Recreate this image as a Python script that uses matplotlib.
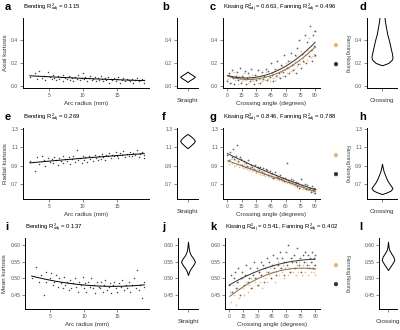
import numpy as np
import matplotlib
matplotlib.use("Agg")
import matplotlib.pyplot as plt

plt.rcParams['font.family'] = ['Liberation Sans', 'DejaVu Sans']
plt.rcParams['mathtext.default'] = 'regular'

# ---- data ----
# arc radius (mm) shared by panels a, e, i
arc_x = [2.2, 2.9, 3.3, 3.6, 4.0, 4.3, 4.4, 4.9, 5.1, 5.4,
         5.6, 5.8, 6.1, 6.3, 6.5, 6.8, 7.0, 7.1, 7.4, 7.7,
         7.9, 8.1, 8.4, 8.6, 8.8, 9.1, 9.3, 9.5, 9.8, 10.0,
         10.2, 10.3, 10.6, 10.9, 11.0, 11.3, 11.5, 11.7, 11.9, 12.2,
         12.4, 12.6, 12.8, 13.0, 13.2, 13.4, 13.7, 13.9, 14.1, 14.3,
         14.5, 14.8, 15.0, 15.2, 15.5, 15.7, 15.9, 16.2, 16.4, 16.7,
         16.9, 17.2, 17.4, 17.7, 17.9, 18.2, 18.4, 18.7, 18.9, 19.0]
arc_axial = [0.08, 0.11, 0.06, 0.13, 0.07, 0.09, 0.05, 0.12, 0.08, 0.06,
             0.10, 0.07, 0.05, 0.09, 0.06, 0.08, 0.04, 0.10, 0.07, 0.06,
             0.09, 0.05, 0.07, 0.04, 0.08, 0.06, 0.10, 0.05, 0.07, 0.11,
             0.06, 0.08, 0.04, 0.07, 0.09, 0.05, 0.06, 0.08, 0.04, 0.07,
             0.05, 0.09, 0.06, 0.04, 0.07, 0.05, 0.08, 0.03, 0.06, 0.05,
             0.07, 0.04, 0.06, 0.08, 0.03, 0.05, 0.07, 0.04, 0.06, 0.05,
             0.04, 0.06, 0.03, 0.05, 0.07, 0.04, 0.05, 0.06, 0.03, 0.05]
arc_radial = [0.95, 0.84, 0.99, 0.92, 1.00, 0.96, 0.90, 0.98, 0.94, 0.97,
              0.93, 0.99, 0.96, 0.91, 0.98, 0.95, 1.01, 0.93, 0.97, 0.95,
              0.99, 0.92, 0.97, 1.00, 0.94, 1.07, 0.96, 0.98, 0.93, 1.00,
              0.96, 0.99, 0.94, 1.01, 0.97, 0.99, 0.95, 1.02, 0.98, 0.96,
              1.01, 0.97, 1.03, 0.99, 0.96, 1.02, 1.00, 1.04, 0.98, 1.02,
              1.00, 1.05, 1.01, 0.98, 1.04, 1.02, 1.06, 0.99, 1.03, 1.01,
              1.05, 1.00, 1.04, 1.02, 1.07, 0.99, 1.03, 1.05, 0.98, 1.02]
arc_mean = [0.50, 0.535, 0.49, 0.51, 0.45, 0.52, 0.49, 0.50, 0.515, 0.48,
            0.49, 0.51, 0.475, 0.50, 0.485, 0.47, 0.505, 0.48, 0.49, 0.465,
            0.495, 0.47, 0.485, 0.50, 0.475, 0.46, 0.49, 0.48, 0.505, 0.47,
            0.485, 0.46, 0.49, 0.475, 0.50, 0.47, 0.48, 0.455, 0.49, 0.475,
            0.47, 0.49, 0.46, 0.48, 0.495, 0.465, 0.475, 0.485, 0.455, 0.48,
            0.49, 0.47, 0.46, 0.485, 0.475, 0.495, 0.465, 0.48, 0.47, 0.49,
            0.46, 0.48, 0.50, 0.47, 0.525, 0.465, 0.48, 0.44, 0.49, 0.475]

# crossing angle (degrees) for kissing and fanning configurations
kiss_x = [0.5, 2, 3.5, 5, 6, 7.5, 9, 10, 11.5, 13,
          14, 15.5, 17, 18, 19.5, 21, 22, 23.5, 25, 26,
          27.5, 29, 30, 31.5, 33, 34, 35.5, 37, 38, 39.5,
          41, 42, 43.5, 45, 46, 47.5, 49, 50, 51.5, 53,
          54, 55.5, 57, 58, 59.5, 61, 62, 63.5, 65, 66,
          67.5, 69, 70, 71.5, 73, 74, 75.5, 77, 78, 79.5,
          81, 82, 83.5, 85, 86, 87, 88, 88.5, 89.5, 90]
fan_x = [1, 2.5, 4, 5.5, 7, 8, 9.5, 11, 12, 13.5,
         15, 16, 17.5, 19, 20, 21.5, 23, 24, 25.5, 27,
         28, 29.5, 31, 32, 33.5, 35, 36, 37.5, 39, 40,
         41.5, 43, 44, 45.5, 47, 48, 49.5, 51, 52, 53.5,
         55, 56, 57.5, 59, 60, 61.5, 63, 64, 65.5, 67,
         68, 69.5, 71, 72, 73.5, 75, 76, 77.5, 79, 80,
         81.5, 83, 84, 85.5, 86.5, 87.5, 88.5, 89, 89.5, 90]
kiss_axial = [0.04, 0.11, 0.03, 0.14, 0.07, 0.02, 0.09, 0.12, 0.05, 0.16,
              0.03, 0.09, 0.06, 0.13, 0.02, 0.07, 0.11, 0.04, 0.15, 0.06,
              0.02, 0.10, 0.05, 0.14, 0.07, 0.03, 0.12, 0.06, 0.09, 0.15,
              0.05, 0.13, 0.08, 0.20, 0.10, 0.04, 0.15, 0.09, 0.22, 0.11,
              0.07, 0.18, 0.12, 0.27, 0.09, 0.16, 0.22, 0.11, 0.29, 0.18,
              0.14, 0.27, 0.11, 0.33, 0.19, 0.40, 0.16, 0.28, 0.22, 0.44,
              0.20, 0.38, 0.26, 0.52, 0.31, 0.22, 0.44, 0.35, 0.27, 0.48]
fan_axial = [0.06, 0.10, 0.03, 0.08, 0.12, 0.05, 0.07, 0.02, 0.09, 0.06,
             0.04, 0.08, 0.11, 0.05, 0.07, 0.03, 0.09, 0.06, 0.10, 0.04,
             0.07, 0.05, 0.09, 0.03, 0.06, 0.10, 0.04, 0.08, 0.05, 0.12,
             0.06, 0.09, 0.04, 0.11, 0.07, 0.13, 0.05, 0.10, 0.15, 0.08,
             0.12, 0.17, 0.09, 0.14, 0.20, 0.11, 0.16, 0.22, 0.13, 0.18,
             0.15, 0.21, 0.26, 0.17, 0.23, 0.19, 0.30, 0.24, 0.21, 0.27,
             0.23, 0.30, 0.42, 0.25, 0.31, 0.26, 0.48, 0.28, 0.34, 0.26]
kiss_radial = [1.02, 0.96, 1.05, 0.99, 1.08, 0.97, 1.01, 1.12, 0.95, 0.99,
               0.97, 0.91, 0.95, 0.88, 0.93, 0.90, 0.96, 0.87, 0.91, 0.89,
               0.86, 0.91, 0.84, 0.89, 0.85, 0.88, 0.83, 0.87, 0.81, 0.86,
               0.85, 0.80, 0.84, 0.79, 0.82, 0.77, 0.83, 0.80, 0.78, 0.76,
               0.80, 0.75, 0.77, 0.73, 0.76, 0.93, 0.74, 0.72, 0.75, 0.71,
               0.74, 0.70, 0.72, 0.68, 0.71, 0.66, 0.75, 0.69, 0.67, 0.70,
               0.65, 0.69, 0.64, 0.66, 0.61, 0.68, 0.63, 0.66, 0.60, 0.64]
fan_radial = [0.95, 0.92, 0.97, 0.93, 0.90, 0.96, 0.91, 0.94, 0.89, 0.92,
              0.90, 0.87, 0.92, 0.88, 0.86, 0.89, 0.85, 0.88, 0.84, 0.86,
              0.85, 0.82, 0.86, 0.83, 0.81, 0.84, 0.80, 0.83, 0.79, 0.81,
              0.80, 0.78, 0.81, 0.77, 0.79, 0.76, 0.78, 0.75, 0.77, 0.74,
              0.76, 0.73, 0.75, 0.72, 0.74, 0.71, 0.73, 0.70, 0.72, 0.69,
              0.71, 0.68, 0.70, 0.67, 0.69, 0.66, 0.68, 0.65, 0.67, 0.64,
              0.66, 0.63, 0.65, 0.62, 0.64, 0.61, 0.63, 0.60, 0.62, 0.64]
kiss_mean = [0.48, 0.51, 0.46, 0.50, 0.52, 0.47, 0.49, 0.53, 0.45, 0.50,
             0.52, 0.48, 0.51, 0.54, 0.49, 0.50, 0.53, 0.47, 0.51, 0.55,
             0.50, 0.53, 0.48, 0.52, 0.55, 0.51, 0.54, 0.49, 0.53, 0.56,
             0.52, 0.55, 0.50, 0.54, 0.57, 0.53, 0.51, 0.56, 0.54, 0.58,
             0.53, 0.56, 0.51, 0.55, 0.58, 0.54, 0.60, 0.52, 0.56, 0.55,
             0.57, 0.53, 0.55, 0.59, 0.54, 0.56, 0.52, 0.57, 0.55, 0.58,
             0.54, 0.57, 0.53, 0.56, 0.55, 0.58, 0.53, 0.56, 0.54, 0.57]
fan_mean = [0.46, 0.43, 0.48, 0.45, 0.42, 0.47, 0.49, 0.44, 0.47, 0.50,
            0.47, 0.45, 0.49, 0.51, 0.46, 0.48, 0.50, 0.47, 0.52, 0.49,
            0.50, 0.48, 0.52, 0.49, 0.51, 0.47, 0.53, 0.50, 0.52, 0.49,
            0.51, 0.53, 0.50, 0.52, 0.54, 0.49, 0.52, 0.55, 0.51, 0.53,
            0.52, 0.54, 0.50, 0.53, 0.55, 0.51, 0.53, 0.52, 0.56, 0.52,
            0.53, 0.51, 0.54, 0.52, 0.55, 0.53, 0.51, 0.54, 0.52, 0.55,
            0.53, 0.51, 0.54, 0.52, 0.55, 0.53, 0.52, 0.54, 0.53, 0.51]

# violin outlines: kurtosis level and relative half width
straight_axial_y = [0.035, 0.05, 0.065, 0.08, 0.095, 0.11, 0.125]
straight_axial_w = [0.0, 0.3, 0.7, 1.0, 0.7, 0.3, 0.0]
cross_axial_y = [0.18, 0.20, 0.23, 0.25, 0.28, 0.32, 0.36, 0.40, 0.45, 0.50, 0.55, 0.62]
cross_axial_w = [0.0, 0.6, 0.95, 1.0, 0.95, 0.85, 0.75, 0.65, 0.5, 0.4, 0.3, 0.2]
straight_radial_y = [1.09, 1.12, 1.15, 1.17, 1.19, 1.22, 1.245]
straight_radial_w = [0.0, 0.45, 0.85, 1.0, 0.85, 0.45, 0.0]
cross_radial_y = [0.59, 0.61, 0.63, 0.655, 0.68, 0.72, 0.76, 0.80, 0.84, 0.88, 0.92]
cross_radial_w = [0.0, 0.5, 0.85, 1.0, 0.85, 0.6, 0.42, 0.28, 0.15, 0.07, 0.0]
straight_mean_y = [0.51, 0.52, 0.53, 0.54, 0.55, 0.56, 0.57, 0.58, 0.59, 0.60, 0.61]
straight_mean_w = [0.0, 0.15, 0.4, 0.75, 1.0, 0.75, 0.4, 0.2, 0.1, 0.05, 0.0]
cross_mean_y = [0.525, 0.535, 0.545, 0.555, 0.565, 0.575, 0.585, 0.595, 0.61]
cross_mean_w = [0.0, 0.35, 0.7, 1.0, 0.85, 0.5, 0.2, 0.08, 0.0]

rows = [
    dict(ylabel='Axial kurtosis', ylim=(-0.017, 0.59), yticks=[0.0, 0.2, 0.4], fmt='%.1f',
         arc=arc_axial, kiss=kiss_axial, fan=fan_axial,
         r2_bend='0.115', r2_kiss='0.663', r2_fan='0.496',
         vs=(straight_axial_y, straight_axial_w), vc=(cross_axial_y, cross_axial_w),
         letters='abcd', top=18, bottom=88),
    dict(ylabel='Radial kurtosis', ylim=(0.536, 1.31), yticks=[0.7, 0.9, 1.1, 1.3], fmt='%.1f',
         arc=arc_radial, kiss=kiss_radial, fan=fan_radial,
         r2_bend='0.269', r2_kiss='0.846', r2_fan='0.788',
         vs=(straight_radial_y, straight_radial_w), vc=(cross_radial_y, cross_radial_w),
         letters='efgh', top=128, bottom=199),
    dict(ylabel='Mean kurtosis', ylim=(0.408, 0.621), yticks=[0.45, 0.50, 0.55, 0.60], fmt='%.2f',
         arc=arc_mean, kiss=kiss_mean, fan=fan_mean,
         r2_bend='0.137', r2_kiss='0.541', r2_fan='0.402',
         vs=(straight_mean_y, straight_mean_w), vc=(cross_mean_y, cross_mean_w),
         letters='ijkl', top=238, bottom=309),
]

W, H = 400, 330
KISS = '#333333'
FAN = '#E8B07C'
TICKC = '#555555'


def box(x0, y0, x1, y1):
    return [x0 / W, 1 - y1 / H, (x1 - x0) / W, (y1 - y0) / H]


def style(ax, r):
    for s in ['top', 'right']:
        ax.spines[s].set_visible(False)
    for s in ['left', 'bottom']:
        ax.spines[s].set_linewidth(0.7)
    ax.tick_params(length=2, width=0.5, labelsize=3.6, colors=TICKC, pad=1.5)
    ax.set_ylim(r['ylim'])
    ax.set_yticks(r['yticks'])
    ax.set_yticklabels([r['fmt'] % v for v in r['yticks']])


def violin(ax, y, w, r, label):
    y = np.array(y)
    w = np.array(w) * 0.42
    ax.fill_betweenx(y, 1 - w, 1 + w, facecolor='white', edgecolor='black', lw=0.7)
    ax.set_xlim(0.4, 1.6)
    ax.set_xticks([1])
    ax.set_xticklabels([''])
    ax.set_xlabel(label, fontsize=4.5, color='#333333', labelpad=4)
    style(ax, r)


def fitline(ax, x, y, color, deg=2):
    x = np.array(x, float)
    c = np.polyfit(x, np.array(y, float), deg)
    xs = np.linspace(x.min(), x.max(), 100)
    ax.plot(xs, np.polyval(c, xs), color=color, lw=0.7)


fig = plt.figure(figsize=(W / 100, H / 100), dpi=100)

for i, r in enumerate(rows):
    t, b = r['top'], r['bottom']
    wide = i == 2
    # arc radius panel
    ax = fig.add_axes(box(25 if wide else 23, t, 149, b))
    ax.scatter(arc_x, r['arc'], s=1.1, color='black', alpha=0.75, linewidths=0)
    fitline(ax, arc_x, r['arc'], 'black')
    ax.set_xlim(1.2, 19.7)
    ax.set_xticks([5, 10, 15])
    ax.set_xlabel('Arc radius (mm)', fontsize=4.5, color='#333333', labelpad=2)
    ax.set_ylabel(r['ylabel'], fontsize=4.5, color='#333333', labelpad=2)
    ax.set_title('Bending R$^2_{adj}$ = ' + r['r2_bend'], loc='left', fontsize=4.3, pad=6)
    style(ax, r)

    # straight violin
    ax = fig.add_axes(box(178 if wide else 177, t, 198, b))
    violin(ax, *r['vs'], r, 'Straight')

    # crossing angle panel
    ax = fig.add_axes(box(225 if wide else 223, t, 320, b))
    ax.scatter(fan_x, r['fan'], s=1.6, color=FAN, alpha=0.8, linewidths=0)
    ax.scatter(kiss_x, r['kiss'], s=1.6, color=KISS, alpha=0.75, linewidths=0)
    fitline(ax, fan_x, r['fan'], '#8a6a48')
    fitline(ax, kiss_x, r['kiss'], KISS)
    ax.set_xlim(-4, 95)
    ax.set_xticks([0, 15, 30, 45, 60, 75, 90])
    ax.set_xlabel('Crossing angle (degrees)', fontsize=4.5, color='#333333', labelpad=2)
    ax.set_title('Kissing R$^2_{adj}$ = ' + r['r2_kiss'] + ', Fanning R$^2_{adj}$ = ' + r['r2_fan'],
                 loc='left', fontsize=4.3, pad=6)
    style(ax, r)

    # legend dots with rotated labels
    ly1 = t + 27
    ly2 = t + 46
    fig.text(335 / W, 1 - ly1 / H, '\u25CF', color=FAN, fontsize=7, ha='center', va='center')
    fig.text(335 / W, 1 - ly2 / H, '\u25CF', color=KISS, fontsize=7, ha='center', va='center')
    fig.text(347 / W, 1 - ly1 / H, 'Fanning', rotation=-90, fontsize=4, color='#444444',
             ha='center', va='center')
    fig.text(347 / W, 1 - ly2 / H, 'Kissing', rotation=-90, fontsize=4, color='#444444',
             ha='center', va='center')

    # crossing violin
    ax = fig.add_axes(box(379 if wide else 367, t, 397, b))
    violin(ax, *r['vc'], r, 'Crossing')

    # panel letters
    ly = t - 8
    for lx, letter in zip([5, 162, 210, 359], r['letters']):
        fig.text(lx / W, 1 - ly / H, letter, fontsize=8, fontweight='bold', ha='left', va='baseline')

fig.savefig('out.png', dpi=100)
